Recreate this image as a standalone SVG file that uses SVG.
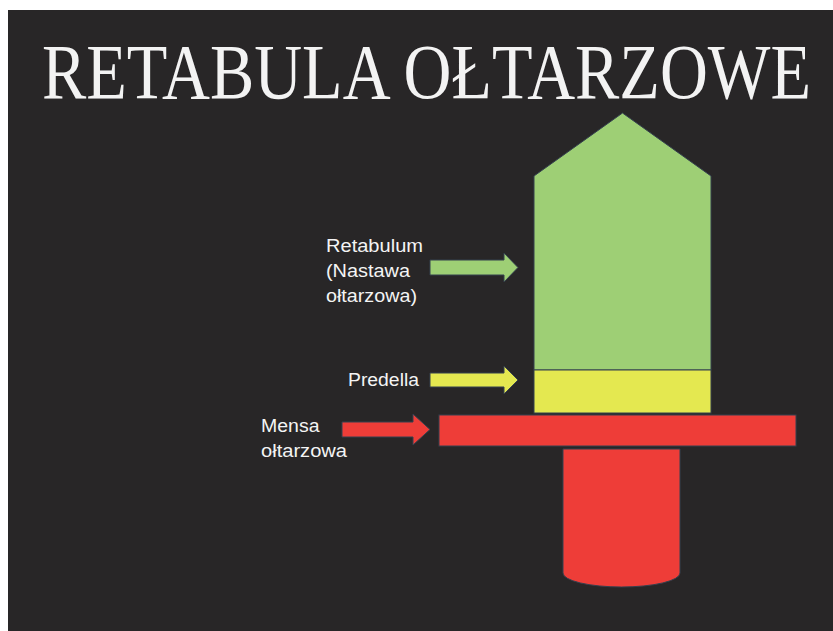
<svg xmlns="http://www.w3.org/2000/svg" width="833" height="631" viewBox="0 0 833 631">
<style>
.lbl{font-family:"Liberation Sans","Noto Sans",Arial,sans-serif;font-size:17.5px;fill:#f4f4f4}
.title{font-family:"Liberation Serif","DejaVu Serif",serif;font-size:65px;fill:#f3f3f3}
.sh{stroke:#34404e;stroke-width:1}
</style>
<rect x="0" y="0" width="833" height="631" fill="#ffffff"/>
<rect x="8" y="10" width="825" height="621" fill="#282627"/>
<text class="title" transform="translate(42,98) scale(1,1.22)" x="0" y="0" textLength="769" lengthAdjust="spacingAndGlyphs">RETABULA OŁTARZOWE</text>
<g id="retabulum">
<polygon class="sh" points="534,176 622.5,113 711,176 711,370 534,370" fill="#9ecf75"/>
</g>
<g id="predella">
<rect class="sh" x="534" y="370" width="177" height="43" fill="#e4e850"/>
</g>
<g id="mensa">
<rect class="sh" x="439" y="415" width="357" height="31" fill="#ee3d38"/>
</g>
<g id="stipes">
<path class="sh" d="M563,449 L680,449 L680,573 A58.5,14 0 0 1 563,573 Z" fill="#ee3d38"/>
</g>
<g id="labels">
<text class="lbl" x="326" y="252" textLength="97" lengthAdjust="spacingAndGlyphs">Retabulum</text>
<text class="lbl" x="326" y="277" textLength="84" lengthAdjust="spacingAndGlyphs">(Nastawa</text>
<text class="lbl" x="326" y="302" textLength="91" lengthAdjust="spacingAndGlyphs">ołtarzowa)</text>
<text class="lbl" x="348" y="386" textLength="71" lengthAdjust="spacingAndGlyphs">Predella</text>
<text class="lbl" x="261" y="432" textLength="58.5" lengthAdjust="spacingAndGlyphs">Mensa</text>
<text class="lbl" x="261" y="457" textLength="86" lengthAdjust="spacingAndGlyphs">ołtarzowa</text>
</g>
<g id="connectors">
<polygon class="sh" points="430,260 504,260 504,253 518,267.5 504,282 504,275 430,275" fill="#9ecf75"/>
<polygon class="sh" points="430,373 504,373 504,366 518,380 504,394 504,387 430,387" fill="#e4e850"/>
<polygon class="sh" points="342,422 413,422 413,414 430,429.5 413,445 413,437 342,437" fill="#ee3d38"/>
</g>
</svg>
